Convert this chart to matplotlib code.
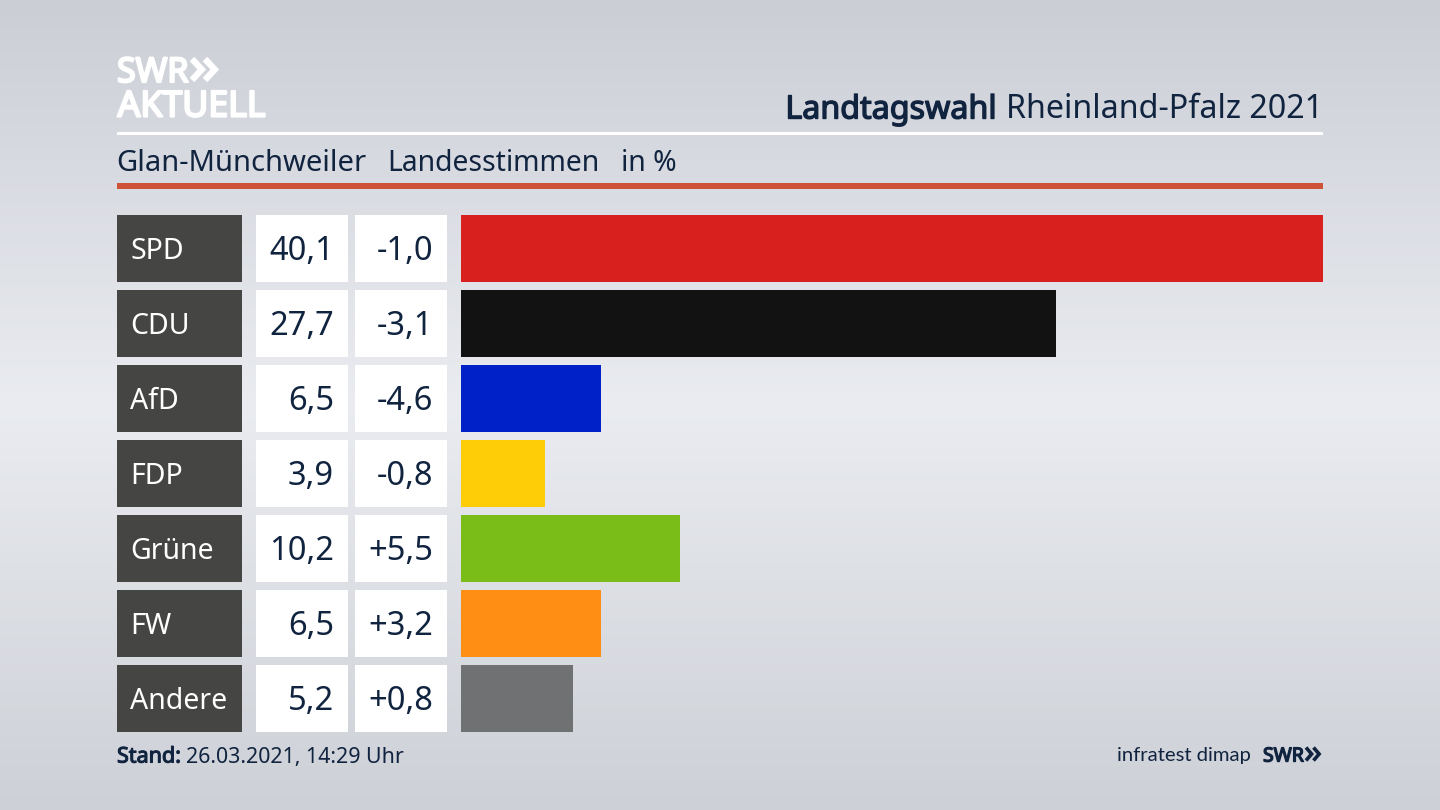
import matplotlib
matplotlib.use('Agg')
import matplotlib.pyplot as plt
import matplotlib.patheffects as pe
import numpy as np
from matplotlib.colors import LinearSegmentedColormap
from matplotlib.patches import Rectangle

plt.rcParams['font.family'] = ['Noto Sans', 'DejaVu Sans']

# Data
parties = ['SPD', 'CDU', 'AfD', 'FDP', 'Grüne', 'FW', 'Andere']
shares = [40.1, 27.7, 6.5, 3.9, 10.2, 6.5, 5.2]
share_labels = ['40,1', '27,7', '6,5', '3,9', '10,2', '6,5', '5,2']
diff_labels = ['-1,0', '-3,1', '-4,6', '-0,8', '+5,5', '+3,2', '+0,8']
bar_colors = ['#d8201f', '#121212', '#0021c8', '#ffcc08', '#7bbd18', '#ff8f14', '#707173']

NAVY = '#10233f'
W, H = 1440, 810
ROW_TOP, ROW_STEP, ROW_H = 215, 75, 66.5

fig = plt.figure(figsize=(14.4, 8.1), dpi=100)

# page in pixel coordinates, y going down
bg = fig.add_axes([0, 0, 1, 1])
bg.set_xlim(0, W)
bg.set_ylim(H, 0)
bg.axis('off')
cmap = LinearSegmentedColormap.from_list('page', [(0, '#cbced5'), (0.5, '#eaecf1'), (1, '#cdd0d6')])
bg.imshow(np.linspace(0, 1, 256).reshape(-1, 1), cmap=cmap, aspect='auto', extent=(0, W, H, 0), zorder=0)


def heavy(x, y, s, color, size, width, **kw):
    # Noto Sans has no bold cut here, so thicken it with a stroke
    t = bg.text(x, y, s, color=color, fontsize=size, **kw)
    t.set_path_effects([pe.withStroke(linewidth=width, foreground=color)])
    return t


def chevrons(x, y, w, h, lw, color):
    # the two arrows of the SWR logo
    for dx in (0, w):
        bg.plot([x + dx, x + dx + w * 0.75, x + dx], [y - h / 2, y, y + h / 2], color=color, lw=lw,
                solid_joinstyle='miter', solid_capstyle='butt')


# logo
heavy(117, 73, 'SWR', 'white', 24.5, 1.6, va='center', ha='left')
chevrons(192, 69.5, 13, 21, 4.6, 'white')
heavy(117.5, 107.5, 'AKTUELL', 'white', 25.7, 1.6, va='center', ha='left')

# header
title = bg.text(1323, 106, 'Rheinland-Pfalz 2021', color=NAVY, fontsize=23.2, va='center_baseline', ha='right')
fig.canvas.draw()
bb = title.get_window_extent()
heavy(bb.x0 - 9, 106, 'Landtagswahl', NAVY, 23.2, 1.0, va='center_baseline', ha='right')
bg.add_patch(Rectangle((117, 132), 1206, 3, color='white', lw=0))
bg.text(116, 160, 'Glan-Münchweiler', color=NAVY, fontsize=21, va='center_baseline')
bg.text(387, 160, 'Landesstimmen', color=NAVY, fontsize=20.4, va='center_baseline')
bg.text(621, 160, 'in %', color=NAVY, fontsize=20.4, va='center_baseline')
bg.add_patch(Rectangle((117, 183), 1206, 6, color='#cd5238', lw=0))

# table cells left of the bars
for i, party in enumerate(parties):
    top = ROW_TOP + i * ROW_STEP
    mid = top + ROW_H / 2
    bg.add_patch(Rectangle((117, top), 124.5, ROW_H, color='#454543', lw=0))
    bg.add_patch(Rectangle((255.5, top), 92.5, ROW_H, color='white', lw=0))
    bg.add_patch(Rectangle((354.5, top), 92.5, ROW_H, color='white', lw=0))
    bg.text(130.5, mid - 0.5, party, color='white', fontsize=20.5, va='center_baseline', ha='left')
    bg.text(334, mid - 0.5, share_labels[i], color=NAVY, fontsize=23.5, va='center_baseline', ha='right')
    bg.text(433, mid - 0.5, diff_labels[i], color=NAVY, fontsize=23.5, va='center_baseline', ha='right')

# bars
n = len(parties)
axes_h = (n - 1) * ROW_STEP + ROW_H
ax = fig.add_axes([461 / W, 1 - (ROW_TOP + axes_h) / H, 862 / W, axes_h / H])
ax.patch.set_alpha(0)
ax.barh(range(n), shares, height=ROW_H / ROW_STEP, color=bar_colors)
ax.set_xlim(0, max(shares))
pad = ROW_H / ROW_STEP / 2
ax.set_ylim(n - 1 + pad, -pad)
ax.axis('off')

# footer
heavy(117, 754.5, 'Stand:', NAVY, 15.5, 0.8, va='center_baseline')
bg.text(186, 754.5, '26.03.2021, 14:29 Uhr', color=NAVY, fontsize=15.4, va='center_baseline')
bg.text(1251, 754, 'infratest dimap', color=NAVY, fontsize=14.6, family='Lato', va='center_baseline', ha='right')
heavy(1263, 754, 'SWR', NAVY, 14, 1.0, va='center_baseline', ha='left')
chevrons(1306, 754, 7.5, 13, 2.6, NAVY)

fig.savefig('out.png', dpi=100)
